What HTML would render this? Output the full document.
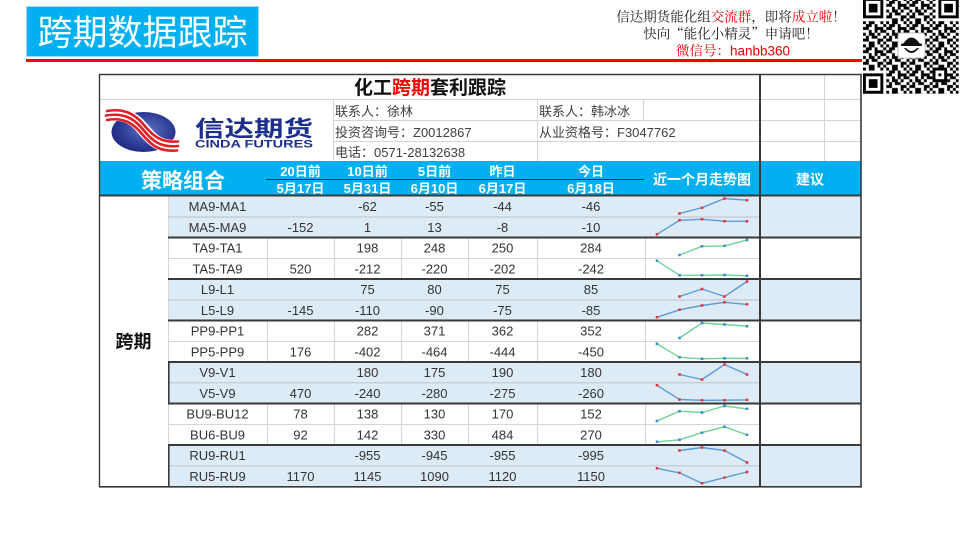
<!DOCTYPE html>
<html><head><meta charset="utf-8"><style>
html,body{margin:0;padding:0;background:#fff;}
svg{display:block;}
</style></head><body>
<svg width="960" height="540" viewBox="0 0 960 540" xmlns="http://www.w3.org/2000/svg" font-family="'Liberation Sans','Noto Sans CJK SC',sans-serif">
<defs>
<radialGradient id="lg" cx="0.55" cy="0.45" r="0.65">
<stop offset="0" stop-color="#6274c4"/><stop offset="0.6" stop-color="#2e3d96"/><stop offset="1" stop-color="#1a2578"/>
</radialGradient>
<pattern id="qp" patternUnits="userSpaceOnUse" width="8" height="8">
<path fill="#000" d="M0 0h1v1h-1z M2 0h2v1h-2z M6 0h1v1h-1z M1 1h2v1h-2z M4 1h1v1h-1z M7 1h1v1h-1z M0 2h2v1h-2z M4 2h3v1h-3z M2 3h1v1h-1z M4 3h1v1h-1z M6 3h2v1h-2z M0 4h1v1h-1z M2 4h2v1h-2z M5 4h1v1h-1z M1 5h1v1h-1z M3 5h2v1h-2z M7 5h1v1h-1z M0 6h2v1h-2z M5 6h2v1h-2z M2 7h2v1h-2z M5 7h1v1h-1z M7 7h1v1h-1z"/>
</pattern>
<marker id="mr" viewBox="0 0 3 3" refX="1.5" refY="1.5" markerWidth="2.6" markerHeight="2.6" markerUnits="userSpaceOnUse"><rect width="3" height="3" fill="#e8333b"/></marker>
<marker id="mb" viewBox="0 0 3 3" refX="1.5" refY="1.5" markerWidth="2.6" markerHeight="2.6" markerUnits="userSpaceOnUse"><rect width="3" height="3" fill="#3d8ad6"/></marker>
</defs>
<rect width="960" height="540" fill="#fff"/>

<!-- Title box -->
<rect x="26.5" y="6.5" width="232" height="50" fill="#00b0f0" stroke="#9fdcf5" stroke-width="1"/>
<text x="142.5" y="45" font-size="35" fill="#fff" text-anchor="middle">跨期数据跟踪</text>
<rect x="26" y="59" width="836" height="3" fill="#ff0000"/>

<!-- Top right notice -->
<g font-family="'Noto Serif CJK SC','Liberation Serif',serif" font-size="13.5" text-anchor="middle">
<text x="731" y="21.5" fill="#222">信达期货能化组<tspan fill="#e60000">交流群</tspan>，即将<tspan fill="#e60000">成立啦</tspan>！</text>
<text x="731" y="38.5" fill="#222">快向“能化小精灵”申请吧！</text>
<text x="733" y="55.5" fill="#e60000">微信号：<tspan font-family="'Liberation Sans',sans-serif">hanbb360</tspan></text>
</g>

<!-- QR code -->
<g transform="translate(863,-2) scale(2.9)">
<rect x="0" y="0" width="33" height="33" fill="#fff"/>
<rect x="0" y="0" width="33" height="33" fill="url(#qp)"/>
<rect x="0" y="0" width="8" height="8" fill="#fff"/>
<rect x="0" y="0" width="7" height="7" fill="#000"/><rect x="1" y="1" width="5" height="5" fill="#fff"/><rect x="2" y="2" width="3" height="3" fill="#000"/>
<rect x="25" y="0" width="8" height="8" fill="#fff"/>
<rect x="26" y="0" width="7" height="7" fill="#000"/><rect x="27" y="1" width="5" height="5" fill="#fff"/><rect x="28" y="2" width="3" height="3" fill="#000"/>
<rect x="0" y="25" width="8" height="8" fill="#fff"/>
<rect x="0" y="26" width="7" height="7" fill="#000"/><rect x="1" y="27" width="5" height="5" fill="#fff"/><rect x="2" y="28" width="3" height="3" fill="#000"/>
<rect x="24" y="24" width="5" height="5" fill="#000"/><rect x="25" y="25" width="3" height="3" fill="#fff"/><rect x="26" y="26" width="1" height="1" fill="#000"/>
</g>
<rect x="898" y="33" width="27" height="25" rx="3" fill="#fff" stroke="#bbb" stroke-width="0.8"/>
<path d="M903,44 Q911.5,31 920,44 Z" fill="#111"/>
<rect x="901" y="43.5" width="21" height="2.5" rx="1" fill="#111"/>
<path d="M904,48 Q911.5,58 919,48 L917,48 Q911.5,54 906,48 Z" fill="#111"/>

<!-- Table top region -->
<!-- light grid -->
<g stroke="#d4d4d4" stroke-width="1" fill="none">
<line x1="99" y1="99.5" x2="861" y2="99.5"/>
<line x1="333" y1="120.5" x2="861" y2="120.5"/>
<line x1="333" y1="141.5" x2="861" y2="141.5"/>
<line x1="333.5" y1="99" x2="333.5" y2="161"/>
<line x1="537.5" y1="99" x2="537.5" y2="161"/>
<line x1="643.5" y1="99" x2="643.5" y2="120"/>
<line x1="824.5" y1="74" x2="824.5" y2="161"/>
</g>

<!-- Logo -->
<ellipse cx="143.5" cy="132" rx="32" ry="20" fill="url(#lg)"/>
<g fill="none" stroke-linecap="round">
<path d="M106,115 C124,112 134,118 143,129 S160,148 178,146" stroke="#fff" stroke-width="13"/>
<path d="M107,111 C124,108 135,114 144,125 S161,143 178,141.5" stroke="#e31e24" stroke-width="2.6"/>
<path d="M106,115.5 C124,112.5 134,118.5 143,129.5 S160,148 178,146" stroke="#e31e24" stroke-width="2.6"/>
<path d="M107,120 C123,117 133,123 142,134 S159,152 177,150.5" stroke="#e31e24" stroke-width="2.6"/>
</g>
<text x="195" y="136.5" font-size="22" font-weight="bold" fill="#1c2f8f" textLength="118" lengthAdjust="spacingAndGlyphs">信达期货</text>
<text x="195" y="147.5" font-size="11" font-weight="bold" fill="#1c2f8f" textLength="118" lengthAdjust="spacingAndGlyphs">CINDA FUTURES</text>

<!-- Title -->
<text x="430" y="94" font-size="19" font-weight="bold" fill="#111" text-anchor="middle">化工<tspan fill="#ff0000">跨期</tspan>套利跟踪</text>

<!-- Info -->
<g font-size="13" fill="#404040">
<text x="335" y="116">联系人：徐林</text>
<text x="335" y="137">投资咨询号：Z0012867</text>
<text x="335" y="157">电话：0571-28132638</text>
<text x="539" y="116">联系人：韩冰冰</text>
<text x="539" y="137">从业资格号：F3047762</text>
</g>

<!-- Header -->
<rect x="99" y="161" width="762" height="34" fill="#00b0f0"/>
<line x1="266" y1="179.5" x2="644" y2="179.5" stroke="#1e3247" stroke-width="1"/>
<g fill="#fff" text-anchor="middle" font-weight="bold">
<text x="183" y="188" font-size="21">策略组合</text>
<g font-size="13">
<text x="300.5" y="176">20日前</text>
<text x="367.5" y="176">10日前</text>
<text x="434.5" y="176">5日前</text>
<text x="502.5" y="176">昨日</text>
<text x="591" y="176">今日</text>
<text x="300.5" y="193">5月17日</text>
<text x="367.5" y="193">5月31日</text>
<text x="434.5" y="193">6月10日</text>
<text x="502.5" y="193">6月17日</text>
<text x="591" y="193">6月18日</text>
</g>
<text x="702" y="184.5" font-size="14">近一个月走势图</text>
<text x="810" y="184.5" font-size="14">建议</text>
</g>

<!-- Data area fills -->
<g fill="#ddebf7">
<rect x="168" y="196" width="693" height="41.5"/>
<rect x="168" y="279" width="693" height="41.5"/>
<rect x="168" y="362" width="693" height="41.5"/>
<rect x="168" y="445" width="693" height="41.5"/>
</g>

<!-- light grid in data -->
<g stroke="#d6d6d6" stroke-width="1" fill="none">
<line x1="168.5" y1="196" x2="168.5" y2="487"/>
<line x1="168" y1="258.5" x2="760" y2="258.5"/>
<line x1="168" y1="341.5" x2="760" y2="341.5"/>
<line x1="168" y1="424.5" x2="760" y2="424.5"/>
<g>
<line x1="267.5" y1="237.5" x2="267.5" y2="279"/><line x1="334.5" y1="237.5" x2="334.5" y2="279"/><line x1="401.5" y1="237.5" x2="401.5" y2="279"/><line x1="468.5" y1="237.5" x2="468.5" y2="279"/><line x1="537.5" y1="237.5" x2="537.5" y2="279"/><line x1="645.5" y1="237.5" x2="645.5" y2="279"/>
<line x1="267.5" y1="320.5" x2="267.5" y2="362"/><line x1="334.5" y1="320.5" x2="334.5" y2="362"/><line x1="401.5" y1="320.5" x2="401.5" y2="362"/><line x1="468.5" y1="320.5" x2="468.5" y2="362"/><line x1="537.5" y1="320.5" x2="537.5" y2="362"/><line x1="645.5" y1="320.5" x2="645.5" y2="362"/>
<line x1="267.5" y1="403.5" x2="267.5" y2="445"/><line x1="334.5" y1="403.5" x2="334.5" y2="445"/><line x1="401.5" y1="403.5" x2="401.5" y2="445"/><line x1="468.5" y1="403.5" x2="468.5" y2="445"/><line x1="537.5" y1="403.5" x2="537.5" y2="445"/><line x1="645.5" y1="403.5" x2="645.5" y2="445"/>
</g>
</g>
<g stroke="#c4c8ce" stroke-width="1.2" fill="none">
<line x1="168" y1="217" x2="760" y2="217"/>
<line x1="168" y1="300" x2="760" y2="300"/>
<line x1="168" y1="382.8" x2="760" y2="382.8"/>
<line x1="168" y1="465.8" x2="760" y2="465.8"/>
</g>

<!-- Dark borders -->
<g stroke="#3a3a3a" fill="none">
<line x1="99" y1="74.5" x2="862" y2="74.5" stroke-width="1.4"/>
<line x1="99.5" y1="74" x2="99.5" y2="487.5" stroke-width="1.4"/>
<line x1="861" y1="74" x2="861" y2="487.5" stroke-width="1.6"/>
<line x1="760" y1="74" x2="760" y2="487.5" stroke-width="2"/>
<line x1="99" y1="195.5" x2="861" y2="195.5" stroke-width="2"/>
<line x1="168" y1="237.5" x2="861" y2="237.5" stroke-width="2"/>
<line x1="168" y1="279" x2="861" y2="279" stroke-width="2"/>
<line x1="168" y1="320.5" x2="861" y2="320.5" stroke-width="2"/>
<line x1="168" y1="362" x2="861" y2="362" stroke-width="2"/>
<line x1="168" y1="403.5" x2="861" y2="403.5" stroke-width="2"/>
<line x1="168" y1="445" x2="861" y2="445" stroke-width="2"/>
<line x1="99" y1="486.8" x2="862" y2="486.8" stroke-width="1.6"/>
<line x1="168.8" y1="362" x2="168.8" y2="403.5" stroke-width="1.6"/>
<line x1="168.8" y1="445" x2="168.8" y2="487" stroke-width="1.6"/>
</g>

<!-- 跨期 label -->
<text x="133.5" y="348" font-size="18" font-weight="bold" fill="#111" text-anchor="middle">跨期</text>

<!-- Data text -->
<g font-size="13" fill="#333" text-anchor="middle">
<text x="217.5" y="211">MA9-MA1</text><text x="367.5" y="211">-62</text><text x="434.5" y="211">-55</text><text x="502.5" y="211">-44</text><text x="591" y="211">-46</text>
<text x="217.5" y="231.75">MA5-MA9</text><text x="300.5" y="231.75">-152</text><text x="367.5" y="231.75">1</text><text x="434.5" y="231.75">13</text><text x="502.5" y="231.75">-8</text><text x="591" y="231.75">-10</text>
<text x="217.5" y="252.5">TA9-TA1</text><text x="367.5" y="252.5">198</text><text x="434.5" y="252.5">248</text><text x="502.5" y="252.5">250</text><text x="591" y="252.5">284</text>
<text x="217.5" y="273.25">TA5-TA9</text><text x="300.5" y="273.25">520</text><text x="367.5" y="273.25">-212</text><text x="434.5" y="273.25">-220</text><text x="502.5" y="273.25">-202</text><text x="591" y="273.25">-242</text>
<text x="217.5" y="294">L9-L1</text><text x="367.5" y="294">75</text><text x="434.5" y="294">80</text><text x="502.5" y="294">75</text><text x="591" y="294">85</text>
<text x="217.5" y="314.75">L5-L9</text><text x="300.5" y="314.75">-145</text><text x="367.5" y="314.75">-110</text><text x="434.5" y="314.75">-90</text><text x="502.5" y="314.75">-75</text><text x="591" y="314.75">-85</text>
<text x="217.5" y="335.5">PP9-PP1</text><text x="367.5" y="335.5">282</text><text x="434.5" y="335.5">371</text><text x="502.5" y="335.5">362</text><text x="591" y="335.5">352</text>
<text x="217.5" y="356.25">PP5-PP9</text><text x="300.5" y="356.25">176</text><text x="367.5" y="356.25">-402</text><text x="434.5" y="356.25">-464</text><text x="502.5" y="356.25">-444</text><text x="591" y="356.25">-450</text>
<text x="217.5" y="377">V9-V1</text><text x="367.5" y="377">180</text><text x="434.5" y="377">175</text><text x="502.5" y="377">190</text><text x="591" y="377">180</text>
<text x="217.5" y="397.75">V5-V9</text><text x="300.5" y="397.75">470</text><text x="367.5" y="397.75">-240</text><text x="434.5" y="397.75">-280</text><text x="502.5" y="397.75">-275</text><text x="591" y="397.75">-260</text>
<text x="217.5" y="418.5">BU9-BU12</text><text x="300.5" y="418.5">78</text><text x="367.5" y="418.5">138</text><text x="434.5" y="418.5">130</text><text x="502.5" y="418.5">170</text><text x="591" y="418.5">152</text>
<text x="217.5" y="439.25">BU6-BU9</text><text x="300.5" y="439.25">92</text><text x="367.5" y="439.25">142</text><text x="434.5" y="439.25">330</text><text x="502.5" y="439.25">484</text><text x="591" y="439.25">270</text>
<text x="217.5" y="460">RU9-RU1</text><text x="367.5" y="460">-955</text><text x="434.5" y="460">-945</text><text x="502.5" y="460">-955</text><text x="591" y="460">-995</text>
<text x="217.5" y="480.75">RU5-RU9</text><text x="300.5" y="480.75">1170</text><text x="367.5" y="480.75">1145</text><text x="434.5" y="480.75">1090</text><text x="502.5" y="480.75">1120</text><text x="591" y="480.75">1150</text>
</g>

<!-- Sparklines -->
<g fill="none" stroke="#5b9bd5" stroke-width="1.4" stroke-linejoin="round" marker-start="url(#mr)" marker-mid="url(#mr)" marker-end="url(#mr)">
<polyline points="679.5,213.5 702,207.7 724.5,198.5 747,200.2"/>
<polyline points="657,234.3 679.5,220.3 702,219.3 724.5,221.2 747,221.3"/>
<polyline points="679.5,296.5 702,289 724.5,296.5 747,281.5"/>
<polyline points="657,317.3 679.5,309.8 702,305.5 724.5,302.3 747,304.4"/>
<polyline points="679.5,374.5 702,379.5 724.5,364.5 747,374.5"/>
<polyline points="657,385.3 679.5,399.5 702,400.3 724.5,400.2 747,399.9"/>
<polyline points="679.5,450.5 702,447.5 724.5,450.5 747,462.5"/>
<polyline points="657,468.3 679.5,472.9 702,483.3 724.5,477.6 747,472"/>
</g>
<g fill="none" stroke="#6fd396" stroke-width="1.4" stroke-linejoin="round" marker-start="url(#mb)" marker-mid="url(#mb)" marker-end="url(#mb)">
<polyline points="679.5,255 702,246.3 724.5,245.9 747,240"/>
<polyline points="657,260.8 679.5,275.2 702,275.3 724.5,275 747,275.8"/>
<polyline points="679.5,338 702,323 724.5,324.5 747,326.2"/>
<polyline points="657,343.8 679.5,357.3 702,358.8 724.5,358.3 747,358.4"/>
<polyline points="657,421 679.5,411.2 702,412.5 724.5,406 747,408.9"/>
<polyline points="657,441.8 679.5,439.8 702,432.6 724.5,426.8 747,434.9"/>
</g>
</svg>
</body></html>
